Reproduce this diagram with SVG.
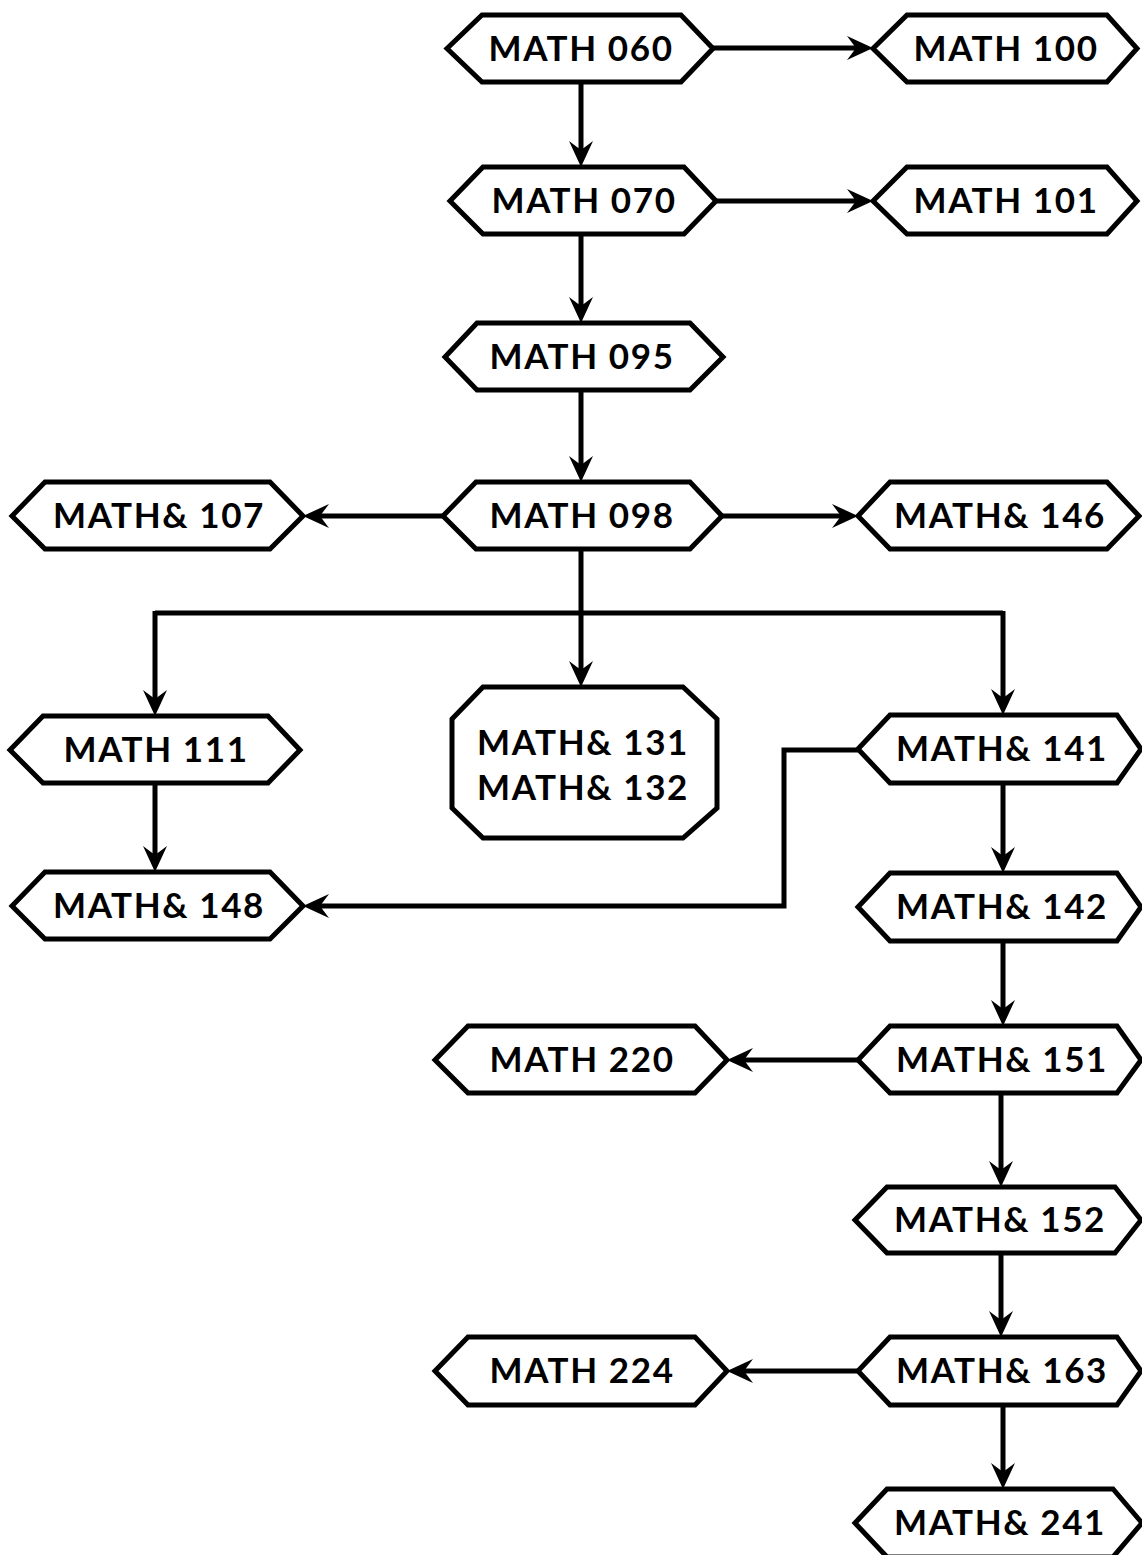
<svg xmlns="http://www.w3.org/2000/svg" width="1142" height="1555" viewBox="0 0 1142 1555">
<style>
.n{fill:#fff;stroke:#000;stroke-width:5;stroke-linejoin:miter}
.t{font-family:Lato,"Open Sans","Liberation Sans",sans-serif;font-weight:bold;font-size:35px;letter-spacing:1.6px;fill:#000;text-anchor:middle}
.c{fill:none;stroke:#000;stroke-width:5;marker-end:url(#ah)}
.cn{fill:none;stroke:#000;stroke-width:5}
</style>
<defs>
<marker id="ah" markerUnits="userSpaceOnUse" markerWidth="28" markerHeight="24" viewBox="0 0 28 24" refX="16" refY="12" orient="auto">
<path d="M0,0 L26,12 L0,24 L9,12 Z" fill="#000"/>
</marker>
</defs>
<rect width="1142" height="1555" fill="#fff"/>
<g id="connectors">
<path class="c" d="M713,48 L863,48"/>
<path class="c" d="M581,82 L581,157"/>
<path class="c" d="M716,201 L863,201"/>
<path class="c" d="M581,234 L581,313"/>
<path class="c" d="M581,390 L581,472"/>
<path class="c" d="M443,516 L313,516"/>
<path class="c" d="M722,516 L848,516"/>
<path class="c" d="M581,549 L581,677"/>
<path class="cn" d="M155,613 L1003,613"/>
<path class="c" d="M155,611 L155,706"/>
<path class="c" d="M1003,611 L1003,705"/>
<path class="c" d="M155,783 L155,862"/>
<path class="c" d="M858,750 L784,750 L784,906 L313,906"/>
<path class="c" d="M1003,783 L1003,863"/>
<path class="c" d="M1003,941 L1003,1016"/>
<path class="c" d="M858,1060 L737,1060"/>
<path class="c" d="M1001,1093 L1001,1177"/>
<path class="c" d="M1001,1253 L1001,1327"/>
<path class="c" d="M858,1371 L737,1371"/>
<path class="c" d="M1003,1405 L1003,1479"/>
</g>
<g id="m060"><path class="n" d="M447,48.5 L482,15 L681,15 L713,48.5 L681,82 L482,82 Z"/><text class="t" x="581" y="61">MATH 060</text></g>
<g id="m100"><path class="n" d="M873,48.5 L907,15 L1107,15 L1137,48.5 L1107,82 L907,82 Z"/><text class="t" x="1006" y="61">MATH 100</text></g>
<g id="m070"><path class="n" d="M450,201 L483,167 L684,167 L716,201 L684,234 L483,234 Z"/><text class="t" x="584" y="213">MATH 070</text></g>
<g id="m101"><path class="n" d="M873,201 L907,167 L1107,167 L1137,201 L1107,234 L907,234 Z"/><text class="t" x="1006" y="213">MATH 101</text></g>
<g id="m095"><path class="n" d="M445,357 L477,323 L690,323 L723,357 L690,390 L477,390 Z"/><text class="t" x="582" y="369">MATH 095</text></g>
<g id="m098"><path class="n" d="M443,516 L476,482 L690,482 L722,516 L690,549 L476,549 Z"/><text class="t" x="582" y="528">MATH 098</text></g>
<g id="m107"><path class="n" d="M12,516 L45,482 L270,482 L303,516 L270,549 L45,549 Z"/><text class="t" x="159" y="528">MATH&amp; 107</text></g>
<g id="m146"><path class="n" d="M858,516 L890,482 L1107,482 L1139,516 L1107,549 L890,549 Z"/><text class="t" x="1000" y="528">MATH&amp; 146</text></g>
<g id="m111"><path class="n" d="M10,750 L43,716 L268,716 L300,750 L268,783 L43,783 Z"/><text class="t" x="156" y="762">MATH 111</text></g>
<g id="m131"><path class="n" d="M483,687 L683,687 L717,719 L717,808 L683,838 L483,838 L452,808 L452,719 Z"/><text class="t" x="583" y="755">MATH&amp; 131</text><text class="t" x="583" y="800">MATH&amp; 132</text></g>
<g id="m141"><path class="n" d="M858,749 L890,715 L1117,715 L1141,749 L1117,783 L890,783 Z"/><text class="t" x="1002" y="761">MATH&amp; 141</text></g>
<g id="m148"><path class="n" d="M12,906 L45,872 L270,872 L303,906 L270,939 L45,939 Z"/><text class="t" x="159" y="918">MATH&amp; 148</text></g>
<g id="m142"><path class="n" d="M858,907 L890,873 L1117,873 L1141,907 L1117,941 L890,941 Z"/><text class="t" x="1002" y="919">MATH&amp; 142</text></g>
<g id="m220"><path class="n" d="M435,1060 L468,1026 L695,1026 L727,1060 L695,1093 L468,1093 Z"/><text class="t" x="582" y="1072">MATH 220</text></g>
<g id="m151"><path class="n" d="M858,1060 L890,1026 L1117,1026 L1141,1060 L1117,1093 L890,1093 Z"/><text class="t" x="1002" y="1072">MATH&amp; 151</text></g>
<g id="m152"><path class="n" d="M855,1220 L887,1187 L1115,1187 L1141,1220 L1115,1253 L887,1253 Z"/><text class="t" x="1000" y="1232">MATH&amp; 152</text></g>
<g id="m224"><path class="n" d="M435,1371 L468,1337 L695,1337 L727,1371 L695,1405 L468,1405 Z"/><text class="t" x="582" y="1383">MATH 224</text></g>
<g id="m163"><path class="n" d="M858,1371 L890,1337 L1117,1337 L1141,1371 L1117,1405 L890,1405 Z"/><text class="t" x="1002" y="1383">MATH&amp; 163</text></g>
<g id="m241"><path class="n" d="M855,1523 L887,1489 L1113,1489 L1142,1523 L1113,1557 L887,1557 Z"/><text class="t" x="1000" y="1535">MATH&amp; 241</text></g>
</svg>
